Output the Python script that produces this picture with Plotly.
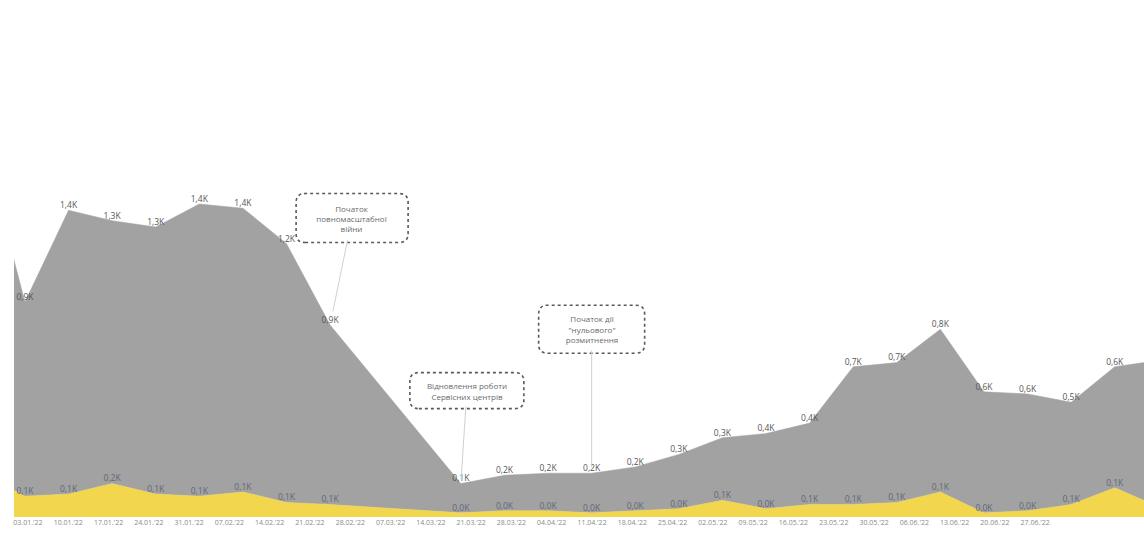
import plotly.graph_objects as go
import pandas as pd

# ---------------- data ----------------
week_start = ["2021-12-27", "2022-01-03", "2022-01-10", "2022-01-17", "2022-01-24",
              "2022-01-31", "2022-02-07", "2022-02-14", "2022-02-21",
              "2022-03-14", "2022-03-21", "2022-03-28", "2022-04-04", "2022-04-11",
              "2022-04-18", "2022-04-25", "2022-05-02", "2022-05-09", "2022-05-16",
              "2022-05-23", "2022-05-30", "2022-06-06", "2022-06-13", "2022-06-20",
              "2022-06-27", "2022-07-04"]
gray_vals = [1.62, 0.93, 1.36, 1.26, 1.28, 1.40, 1.36, 1.24, 0.86,
             0.14, 0.17, 0.18, 0.19, 0.21, 0.26, 0.30, 0.36, 0.39, 0.66,
             0.67, 0.78, 0.58, 0.56, 0.49, 0.58, 0.70]
yellow_vals = [0.21, 0.10, 0.11, 0.16, 0.11, 0.10, 0.12, 0.07, 0.06,
               0.02, 0.03, 0.03, 0.02, 0.03, 0.04, 0.08, 0.04, 0.06, 0.06,
               0.07, 0.12, 0.02, 0.03, 0.06, 0.14, 0.05]
tick_labels = ["03.01.'22", "10.01.'22", "17.01.'22", "24.01.'22", "31.01.'22",
               "07.02.'22", "14.02.'22", "21.02.'22", "28.02.'22", "07.03.'22",
               "14.03.'22", "21.03.'22", "28.03.'22", "04.04.'22", "11.04.'22",
               "18.04.'22", "25.04.'22", "02.05.'22", "09.05.'22", "16.05.'22",
               "23.05.'22", "30.05.'22", "06.06.'22", "13.06.'22", "20.06.'22",
               "27.06.'22"]
events = ["2022-02-21", "2022-03-14", "2022-04-04"]
event_texts = ["Початок<br>повномасштабної<br>війни",
               "Відновлення роботи<br>Сервісних центрів",
               "Початок дії<br>\"нульового\"<br>розмитнення"]

# ---------------- derived ----------------
dates = pd.to_datetime(week_start)
totals = [g + y for g, y in zip(gray_vals, yellow_vals)]
first = pd.Timestamp("2022-01-03")
x_start = first - pd.Timedelta(days=1.76)
x_end = first + pd.Timedelta(days=179.7)


def fmt(v):
    return f"{v:.1f}".replace(".", ",") + "K"


def visible(d):
    return x_start <= d <= x_end - pd.Timedelta(days=3)


gray_text = [fmt(v) if visible(d) else "" for v, d in zip(gray_vals, dates)]
yellow_text = [fmt(v) if visible(d) else "" for v, d in zip(yellow_vals, dates)]

tick_step_days = 6.47
tick_vals = [first + pd.Timedelta(days=0.48 + k * tick_step_days) for k in range(len(tick_labels))]

GRAY = "#a2a2a2"
YELLOW = "#f2d64e"
FONT = "Open Sans"

fig = go.Figure()
fig.add_trace(go.Scatter(x=dates, y=yellow_vals, stackgroup="s", mode="lines",
                         line=dict(color=YELLOW, width=0.5), fillcolor=YELLOW,
                         hoverinfo="skip", showlegend=False))
fig.add_trace(go.Scatter(x=dates, y=gray_vals, stackgroup="s", mode="lines",
                         line=dict(color=GRAY, width=0.5), fillcolor=GRAY,
                         hoverinfo="skip", showlegend=False))
fig.add_trace(go.Scatter(x=dates, y=yellow_vals, mode="text", text=yellow_text,
                         textposition="top center", cliponaxis=False,
                         textfont=dict(family=FONT, size=8.5, color="#5d6778"),
                         hoverinfo="skip", showlegend=False))
fig.add_trace(go.Scatter(x=dates, y=totals, mode="text", text=gray_text,
                         textposition="top center", cliponaxis=False,
                         textfont=dict(family=FONT, size=8.5, color="#555555"),
                         hoverinfo="skip", showlegend=False))

# annotation boxes (offsets in px from the data point, box sizes in px)
box_offsets = [(22, -107), (6, -93), (0, -144)]
box_sizes = [(112, 49), (114, 36), (106, 48)]
standoffs = [14, 4, 6]


def rounded_rect(x0, y0, x1, y1, r):
    return (f"M {x0 + r},{y0} L {x1 - r},{y0} Q {x1},{y0} {x1},{y0 + r} "
            f"L {x1},{y1 - r} Q {x1},{y1} {x1 - r},{y1} L {x0 + r},{y1} "
            f"Q {x0},{y1} {x0},{y1 - r} L {x0},{y0 + r} Q {x0},{y0} {x0 + r},{y0} Z")


date_to_total = dict(zip(dates, totals))
for ev, txt, (dx, dy), (w, h), so in zip(events, event_texts, box_offsets, box_sizes, standoffs):
    d = pd.Timestamp(ev)
    yv = date_to_total[d]
    fig.add_shape(type="path", xref="x", yref="y", xsizemode="pixel", ysizemode="pixel",
                  xanchor=d, yanchor=yv,
                  path=rounded_rect(dx - w / 2, -dy - h / 2, dx + w / 2, -dy + h / 2, 9),
                  line=dict(color="#5a5a5a", width=1.6, dash="dot"),
                  fillcolor="white", layer="above")
    fig.add_annotation(x=d, y=yv, ax=dx, ay=dy, text=txt, showarrow=True,
                       arrowhead=0, arrowwidth=1, arrowcolor="#d0d0d0", standoff=so,
                       width=w - 6, height=h - 6, borderpad=0,
                       font=dict(family=FONT, size=8, color="#6a6a6a"))

fig.update_layout(
    width=1144, height=534,
    margin=dict(l=14, r=0, t=10, b=17),
    paper_bgcolor="white", plot_bgcolor="white",
    xaxis=dict(type="date", range=[x_start, x_end], showgrid=False, zeroline=False,
               showline=False, tickmode="array", tickvals=tick_vals, ticktext=tick_labels,
               tickfont=dict(family=FONT, size=7, color="#8a8a8a"), ticks="", ticklen=0),
    yaxis=dict(range=[0, 2.43], showgrid=False, zeroline=False, showline=False,
               showticklabels=False, fixedrange=True),
)

fig.write_html("out.html")
